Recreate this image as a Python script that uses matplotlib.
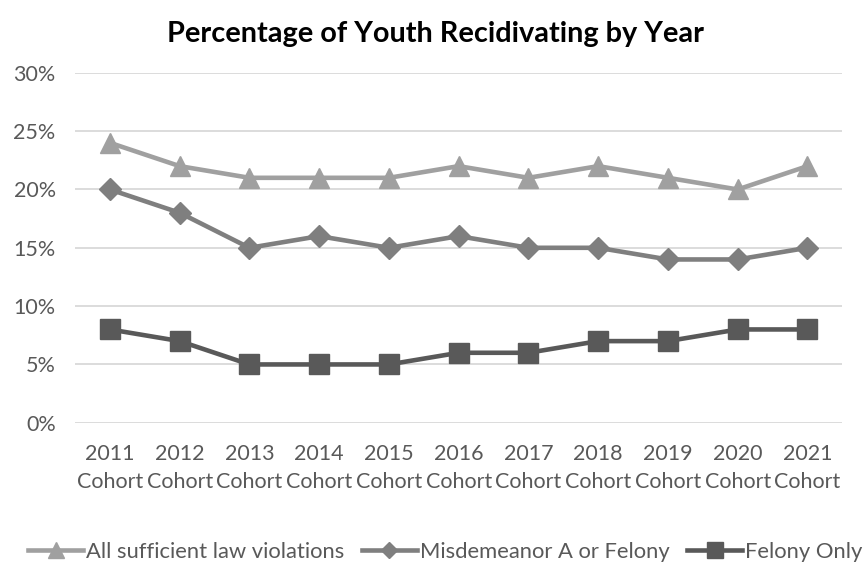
import matplotlib.pyplot as plt
from matplotlib.ticker import PercentFormatter

plt.rcParams['font.family'] = ['Lato', 'DejaVu Sans']

# data
cohorts = ['2011\nCohort', '2012\nCohort', '2013\nCohort', '2014\nCohort', '2015\nCohort', '2016\nCohort',
           '2017\nCohort', '2018\nCohort', '2019\nCohort', '2020\nCohort', '2021\nCohort']
all_violations = [24, 22, 21, 21, 21, 22, 21, 22, 21, 20, 22]
misd_a_felony = [20, 18, 15, 16, 15, 16, 15, 15, 14, 14, 15]
felony_only = [8, 7, 5, 5, 5, 6, 6, 7, 7, 8, 8]

fig = plt.figure(figsize=(8.63, 5.69), dpi=100)
ax = fig.add_axes([0.087, 0.257, 0.889, 0.615])

x = range(len(cohorts))
ax.plot(x, all_violations, color='#a0a0a0', lw=3.3, marker='^', ms=15, label='All sufficient law violations')
ax.plot(x, misd_a_felony, color='#7f7f7f', lw=3.3, marker='D', ms=11, label='Misdemeanor A or Felony')
ax.plot(x, felony_only, color='#595959', lw=3.3, marker='s', ms=15, label='Felony Only')

ax.set_xlim(-0.5, len(cohorts) - 0.5)
ax.set_ylim(0, 30)
ax.set_yticks(range(0, 31, 5))
ax.yaxis.set_major_formatter(PercentFormatter(decimals=0))
ax.set_xticks(list(x))
ax.set_xticklabels(cohorts, linespacing=1.55)
ax.tick_params(length=0, labelsize=15.5, colors='#595959')
ax.tick_params(axis='x', pad=15)
ax.tick_params(axis='y', pad=14)
ax.grid(axis='y', color='#d9d9d9', lw=1.3)
ax.set_axisbelow(True)
for s in ax.spines.values():
    s.set_visible(False)

fig.suptitle('Percentage of Youth Recidivating by Year', x=0.505, y=0.963, fontsize=20.8, fontweight='bold')

fig.legend(loc='center', bbox_to_anchor=(0.516, 0.03), ncol=3, frameon=False, fontsize=15.8,
           labelcolor='#595959', handlelength=2.5, columnspacing=0.8, handletextpad=0.14, markerscale=0.75)

plt.savefig('out.png')
